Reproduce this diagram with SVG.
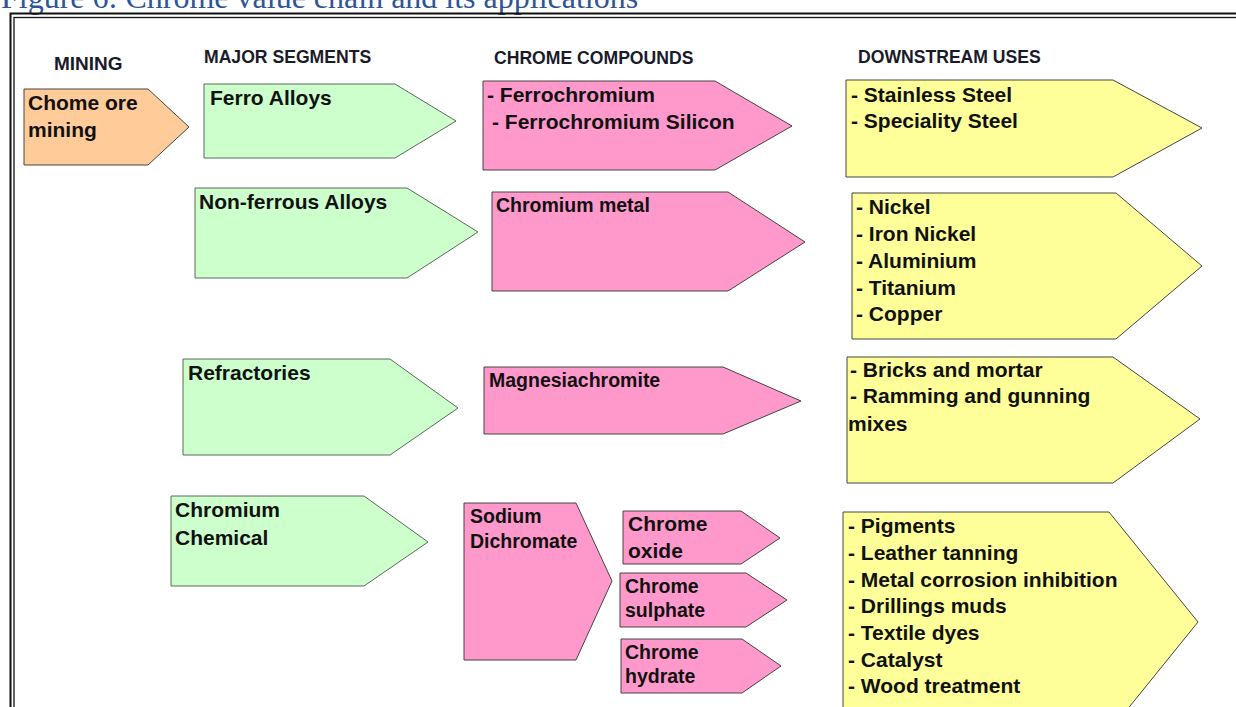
<svg xmlns="http://www.w3.org/2000/svg" width="1236" height="707" viewBox="0 0 1236 707">
<style>
.frame{fill:none;stroke:#111}
.sh{stroke:#444;stroke-width:1;stroke-linejoin:miter}
.o{fill:#FFCC99}
.g{fill:#CCFFCC;stroke:#5a6a5a}
.p{fill:#FF99CC}
.y{fill:#FFFF99}
text{font-family:"Liberation Sans",Arial,sans-serif;font-weight:bold;fill:#111}
.t{font-size:21px}
.s{font-size:19.5px}
.h{font-size:17.6px;fill:#1a1a2a}
.title{font-family:"Liberation Serif","Times New Roman",serif;font-weight:normal;font-size:32px;fill:#2F5597}
</style>
<rect width="1236" height="707" fill="#fff"/>
<text class="title" x="1" y="8">Figure 6: Chrome value chain and its applications</text>
<g id="frame">
<rect class="frame" x="10.5" y="13.5" width="1260" height="720" stroke-width="2"/>
<rect class="frame" x="14" y="17.5" width="1250" height="710" stroke-width="1.3"/>
</g>
<g id="headers">
<text class="h" x="54" y="70" style="font-size:19px">MINING</text>
<text class="h" x="204" y="63">MAJOR SEGMENTS</text>
<text class="h" x="494" y="64">CHROME COMPOUNDS</text>
<text class="h" x="858" y="63">DOWNSTREAM USES</text>
</g>
<g id="connectors"></g>
<g id="n-mining">
<polygon class="sh o" points="24,89 148,89 189,127 148,165 24,165"/>
<text class="t" x="28" y="110">Chome ore</text>
<text class="t" x="28" y="137">mining</text>
</g>
<g id="n-ferro-alloys">
<polygon class="sh g" points="204,84 395,84 456,121 395,158 204,158"/>
<text class="t" x="210" y="105">Ferro Alloys</text>
</g>
<g id="n-ferrochromium">
<polygon class="sh p" points="483,81 715,81 792,126 715,170 483,170"/>
<text class="t" x="487" y="102">- Ferrochromium</text>
<text class="t" x="492" y="129">- Ferrochromium Silicon</text>
</g>
<g id="n-steel">
<polygon class="sh y" points="846,80 1113,80 1202,128 1113,177 846,177"/>
<text class="t" x="851" y="102">- Stainless Steel</text>
<text class="t" x="851" y="128">- Speciality Steel</text>
</g>
<g id="n-nonferrous">
<polygon class="sh g" points="195,188 407,188 478,232 407,278 195,278"/>
<text class="t" x="199" y="209">Non-ferrous Alloys</text>
</g>
<g id="n-chromium-metal">
<polygon class="sh p" points="492,192 728,192 805,242 728,291 492,291"/>
<text class="s" x="496" y="212">Chromium metal</text>
</g>
<g id="n-nonferrous-uses">
<polygon class="sh y" points="852,193 1116,193 1202,266 1116,339 852,339"/>
<text class="t" x="856" y="214">- Nickel</text>
<text class="t" x="856" y="241">- Iron Nickel</text>
<text class="t" x="856" y="268">- Aluminium</text>
<text class="t" x="856" y="295">- Titanium</text>
<text class="t" x="856" y="321">- Copper</text>
</g>
<g id="n-refractories">
<polygon class="sh g" points="183,359 390,359 458,408 390,455 183,455"/>
<text class="t" x="188" y="380">Refractories</text>
</g>
<g id="n-magnesiachromite">
<polygon class="sh p" points="484,367 723,367 801,401 723,434 484,434"/>
<text class="s" x="489" y="387">Magnesiachromite</text>
</g>
<g id="n-refractory-uses">
<polygon class="sh y" points="847,357 1113,357 1200,419 1113,483 847,483"/>
<text class="t" x="850" y="377">- Bricks and mortar</text>
<text class="t" x="850" y="403">- Ramming and gunning</text>
<text class="t" x="848" y="431">mixes</text>
</g>
<g id="n-chromium-chemical">
<polygon class="sh g" points="171,496 364,496 428,542 364,586 171,586"/>
<text class="t" x="175" y="517">Chromium</text>
<text class="t" x="175" y="545">Chemical</text>
</g>
<g id="n-sodium-dichromate">
<polygon class="sh p" points="464,503 576,503 612,581 576,660 464,660"/>
<text class="s" x="470" y="523">Sodium</text>
<text class="s" x="470" y="548">Dichromate</text>
</g>
<g id="n-chrome-oxide">
<polygon class="sh p" points="623,511 741,511 780,538 741,564 623,564"/>
<text class="t" x="628" y="531">Chrome</text>
<text class="t" x="628" y="558">oxide</text>
</g>
<g id="n-chrome-sulphate">
<polygon class="sh p" points="620,573 746,573 787,600 746,627 620,627"/>
<text class="s" x="625" y="593">Chrome</text>
<text class="s" x="625" y="617">sulphate</text>
</g>
<g id="n-chrome-hydrate">
<polygon class="sh p" points="621,639 742,639 781,666 742,693 621,693"/>
<text class="s" x="625" y="659">Chrome</text>
<text class="s" x="625" y="683">hydrate</text>
</g>
<g id="n-chemical-uses">
<polygon class="sh y" points="843,512 1109,512 1198,622 1109,732 843,732"/>
<text class="t" x="848" y="533">- Pigments</text>
<text class="t" x="848" y="560">- Leather tanning</text>
<text class="t" x="848" y="587">- Metal corrosion inhibition</text>
<text class="t" x="848" y="613">- Drillings muds</text>
<text class="t" x="848" y="640">- Textile dyes</text>
<text class="t" x="848" y="667">- Catalyst</text>
<text class="t" x="848" y="693">- Wood treatment</text>
</g>
</svg>
